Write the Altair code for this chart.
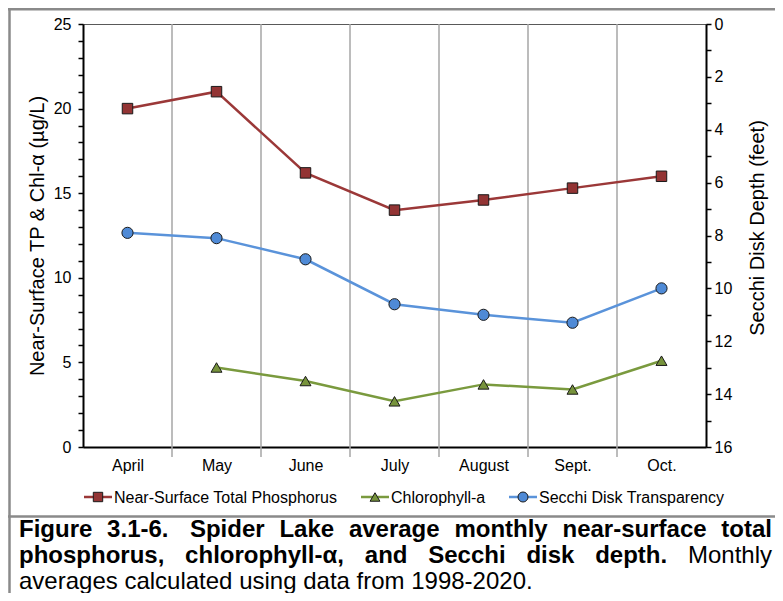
import json
import altair as alt
import pandas as pd

# ---------------- data ----------------
months = ["April", "May", "June", "July", "August", "Sept.", "Oct."]
tp = [20.0, 21.0, 16.2, 14.0, 14.6, 15.3, 16.0]
chl = [None, 4.7, 3.9, 2.7, 3.7, 3.4, 5.1]
secchi = [7.9, 8.1, 8.9, 10.6, 11.0, 11.3, 10.0]
series_names = ["Near-Surface Total Phosphorus", "Chlorophyll-a", "Secchi Disk Transparency"]
left_title = "Near-Surface TP & Chl-\u03b1 (\u00b5g/L)"
right_title = "Secchi Disk Depth (feet)"
left_ticks = list(range(0, 26))
right_ticks = list(range(0, 17))
caption_line1 = ["Figure", "3.1-6.", "Spider", "Lake", "average", "monthly", "near-surface", "total"]
caption_line1_spaces = [1, 2, 1, 1, 1, 1, 1]
caption_line2 = ["phosphorus,", "chlorophyll-\u03b1,", "and", "Secchi", "disk", "depth.", "Monthly"]
caption_line2_bold = [True, True, True, True, True, True, False]
caption_line3 = "averages calculated using data from 1998-2020."

# ---------------- layout / style ----------------
FONT = "Liberation Sans, Arial, Helvetica, sans-serif"
W, H = 623, 423
OX, OY = 83, 24          # page position of the plot origin
SVG_W, SVG_H = 767, 585  # whole drawing, fits the 783x601 window with the 8px page margin
PAD = {"left": OX - 8, "top": OY - 8, "right": SVG_W - (OX - 8) - W, "bottom": SVG_H - (OY - 8) - H}


def px(x):
    return x - OX


def py(y):
    return y - OY


styles = [
    dict(line="#9B3838", fill="#933434", shape="square", size=110),
    dict(line="#7A9A3E", fill="#77933C", shape="triangle-up", size=120),
    dict(line="#5A93DA", fill="#4F8AD6", shape="circle", size=125),
]

n = len(months)
pos = [i + 0.5 for i in range(n)]

x_axis = alt.Axis(
    values=pos,
    labelExpr=json.dumps(months) + "[floor(datum.value)]",
    ticks=False, grid=False, domain=True, domainColor="black", domainWidth=2,
    labelFont=FONT, labelFontSize=16, labelColor="black", labelPadding=10,
    labelFlush=False, labelOverlap=False, title=None,
)
x_enc = alt.X("pos:Q", scale=alt.Scale(domain=[0, n], nice=False, zero=False), axis=x_axis)

left_axis = alt.Axis(
    orient="left", values=left_ticks,
    labelExpr="datum.value % 5 == 0 ? datum.label : ''",
    tickSize=5, tickWidth=1.5, tickColor="black", grid=False,
    domainColor="black", domainWidth=2,
    labelFont=FONT, labelFontSize=16, labelColor="black", labelPadding=7,
    labelFlush=False, labelOverlap=False,
    title=left_title, titleFont=FONT, titleFontSize=20, titleFontWeight="normal",
    titleColor="black", titleAngle=270, titleX=-46, titleY=H / 2,
    titleBaseline="middle", titleAlign="center",
)
right_axis = alt.Axis(
    orient="right", values=right_ticks,
    labelExpr="datum.value % 2 == 0 ? datum.label : ''",
    tickSize=5, tickWidth=1.5, tickColor="black", grid=False,
    domainColor="black", domainWidth=2,
    labelFont=FONT, labelFontSize=16, labelColor="black", labelPadding=3,
    labelFlush=False, labelOverlap=False,
    title=right_title, titleFont=FONT, titleFontSize=20, titleFontWeight="normal",
    titleColor="black", titleAngle=270, titleX=51, titleY=H / 2 - 8,
    titleBaseline="middle", titleAlign="center",
)
y_left = alt.Y("value:Q", scale=alt.Scale(domain=[0, 25], nice=False, zero=False), axis=left_axis)
y_right = alt.Y("value:Q", scale=alt.Scale(domain=[0, 16], nice=False, zero=False, reverse=True),
                axis=right_axis)


def series_layers(values, st, y_def):
    df = pd.DataFrame({"pos": pos, "value": values})
    line = alt.Chart(df).mark_line(color=st["line"], strokeWidth=2.5).encode(x=x_enc, y=y_def)
    pts = alt.Chart(df).mark_point(
        shape=st["shape"], size=st["size"], filled=True, fill=st["fill"],
        stroke="#1A1A1A", strokeWidth=1, opacity=1,
    ).encode(x=x_enc, y=y_def)
    return [line, pts]


left_layer = alt.layer(*series_layers(tp, styles[0], y_left), *series_layers(chl, styles[1], y_left))
right_layer = alt.layer(*series_layers(secchi, styles[2], y_right))

grid_df = pd.DataFrame({"pos": list(range(1, n))})
grid = alt.Chart(grid_df).mark_rule(color="#A6A6A6", strokeWidth=1.5).encode(
    x=x_enc, y=alt.value(0), y2=alt.value(H + 10)
)

one = pd.DataFrame({"k": [0]})

# ---------------- legend (manual, Excel-style line + marker) ----------------
legend_y = py(497)
legend_slots = [(84, 112, 98, 114), (361, 389, 375, 391), (509, 537, 523, 539)]
legend_layers = []
for name, st, (x0, x1, xm, xt) in zip(series_names, styles, legend_slots):
    legend_layers.append(
        alt.Chart(one).mark_rule(color=st["line"], strokeWidth=2.5).encode(
            x=alt.value(px(x0)), x2=alt.value(px(x1)), y=alt.value(legend_y))
    )
    legend_layers.append(
        alt.Chart(one).mark_point(shape=st["shape"], size=st["size"] * 0.8, filled=True,
                                  fill=st["fill"], stroke="#1A1A1A", strokeWidth=1, opacity=1).encode(
            x=alt.value(px(xm)), y=alt.value(legend_y))
    )
    legend_layers.append(
        alt.Chart(one).mark_text(align="left", baseline="middle", font=FONT, fontSize=16,
                                 color="black").encode(
            x=alt.value(px(xt)), y=alt.value(legend_y + 1), text=alt.value(name))
    )

# ---------------- caption (justified, like the report) ----------------
BOLD = {" ": 278, "a": 556, "c": 556, "d": 611, "e": 556, "f": 333, "g": 611, "h": 611, "i": 278,
        "k": 556, "l": 278, "m": 889, "n": 611, "o": 611, "p": 611, "r": 389, "s": 556, "t": 333,
        "u": 611, "v": 556, "y": 556, "F": 611, "L": 611, "S": 667, ".": 278, ",": 278, "-": 333,
        "\u03b1": 620}
REG = {" ": 278, "a": 556, "c": 500, "d": 556, "e": 556, "f": 278, "g": 556, "h": 556, "i": 222,
       "l": 222, "m": 833, "n": 556, "o": 556, "r": 333, "s": 500, "t": 278, "u": 556, "v": 500,
       "y": 500, "M": 833, ".": 278, "-": 333}
CAP_SIZE = 24
CAP_LEFT, CAP_RIGHT = 19, 772


def tw(s, table):
    return sum(table.get(ch, 556) for ch in s) * CAP_SIZE / 1000.0


def justify(words, bolds, spaces):
    widths = [tw(w, BOLD if b else REG) for w, b in zip(words, bolds)]
    sp = [k * tw(" ", BOLD) for k in spaces]
    extra = (CAP_RIGHT - CAP_LEFT - sum(widths) - sum(sp)) / max(len(words) - 1, 1)
    xs, x = [], CAP_LEFT
    for i, w in enumerate(widths):
        xs.append(x)
        if i < len(sp):
            x += w + sp[i] + extra
    return xs


caption_layers = []
lines = [
    (caption_line1, [True] * len(caption_line1), caption_line1_spaces, 537),
    (caption_line2, caption_line2_bold, [1] * (len(caption_line2) - 1), 563),
]
for words, bolds, spaces, base in lines:
    for w, b, x in zip(words, bolds, justify(words, bolds, spaces)):
        caption_layers.append(
            alt.Chart(one).mark_text(align="left", baseline="alphabetic", font=FONT,
                                     fontSize=CAP_SIZE, fontWeight="bold" if b else "normal",
                                     color="black").encode(
                x=alt.value(px(x)), y=alt.value(py(base)), text=alt.value(w))
        )
caption_layers.append(
    alt.Chart(one).mark_text(align="left", baseline="alphabetic", font=FONT, fontSize=CAP_SIZE,
                             color="black").encode(
        x=alt.value(px(CAP_LEFT)), y=alt.value(py(589)), text=alt.value(caption_line3))
)

# ---------------- frame ----------------
FRAME = "#8A8A8A"
frame = [
    alt.Chart(one).mark_rule(color=FRAME, strokeWidth=2.5).encode(
        x=alt.value(px(8)), x2=alt.value(px(8 + SVG_W)), y=alt.value(py(9.3))),
    alt.Chart(one).mark_rule(color=FRAME, strokeWidth=2.5).encode(
        x=alt.value(px(9.5)), y=alt.value(py(8)), y2=alt.value(py(8 + SVG_H))),
    alt.Chart(one).mark_rule(color=FRAME, strokeWidth=2.5).encode(
        x=alt.value(px(8)), x2=alt.value(px(8 + SVG_W)), y=alt.value(py(516.5))),
]

chart = alt.layer(
    grid, left_layer, right_layer, *legend_layers, *caption_layers, *frame
).resolve_scale(y="independent").properties(
    width=W, height=H,
    autosize=alt.AutoSizeParams(type="none"),
    padding=PAD,
    background="white",
).configure_view(stroke="#595959", strokeWidth=1)

chart.save("out.html", embed_options={"renderer": "svg", "actions": False})
